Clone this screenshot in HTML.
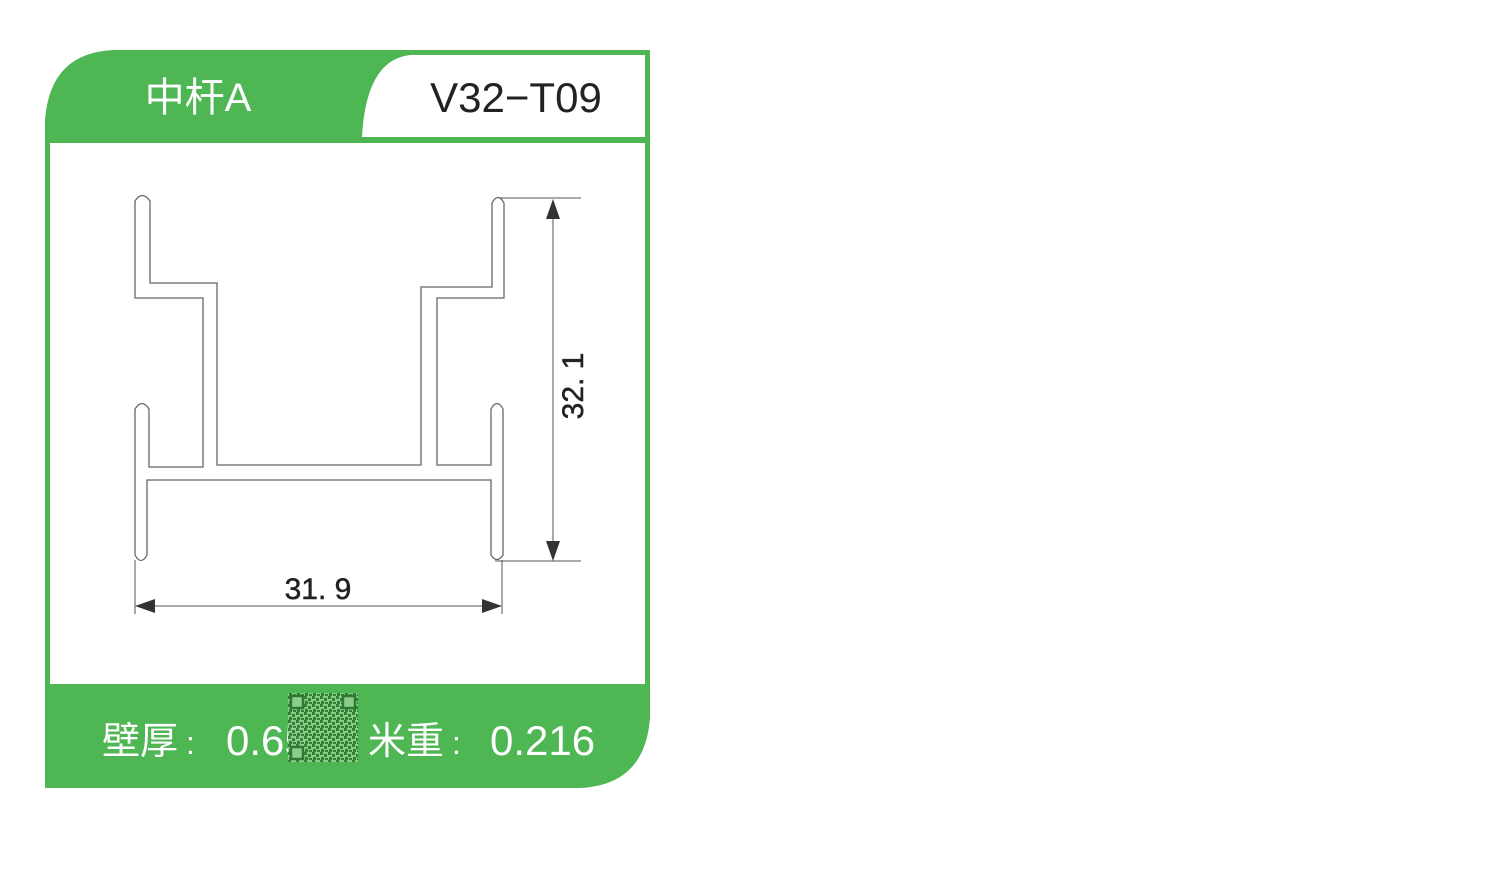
<!DOCTYPE html>
<html><head><meta charset="utf-8"><style>
html,body{margin:0;padding:0;background:#fff;width:1500px;height:870px;overflow:hidden}
svg{display:block}
</style></head><body>
<svg width="1500" height="870" viewBox="0 0 1500 870" xmlns="http://www.w3.org/2000/svg">
<defs>
<pattern id="qr" width="8" height="8" patternUnits="userSpaceOnUse">
<rect width="8" height="8" fill="#8ccf8a"/>
<rect x="0" y="0" width="3" height="3" fill="#2f7a33"/>
<rect x="4" y="2" width="3" height="3" fill="#2f7a33"/>
<rect x="1" y="5" width="3" height="3" fill="#2f7a33"/>
<rect x="5" y="6" width="3" height="2" fill="#2f7a33"/>
</pattern>
</defs>
<path d="M45,120 Q50,52 115,50 L650,50 L650,718 Q645,785 580,788 L45,788 Z" fill="#4fb654"/>
<rect x="50" y="143" width="595" height="541" fill="#fff"/>
<path d="M362,137 Q366,60 410,55 L645,55 L645,137 Z" fill="#fff"/>
<text x="198" y="111" font-family="Liberation Sans, Noto Sans CJK SC, sans-serif" font-size="40" fill="#fff" text-anchor="middle">中杆A</text>
<text x="516" y="112" font-family="Liberation Sans, Noto Sans CJK SC, sans-serif" font-size="42" fill="#222" text-anchor="middle">V32−T09</text>
<path d="M135,298 L135,201 Q142,190 150,201 L150,283 L217,283 L217,465 L421,465 L421,287 L492,287 L492,203 Q498,192 504,203 L504,298 L437,298 L437,465 L491,465 L491,409 Q497,398 503,409 L503,555 Q497,564 491,555 L491,480 L147,480 L147,555 Q141,566 135,555 L135,409 Q142,398 149,409 L149,467 L203,467 L203,298 Z" fill="none" stroke="#666" stroke-width="1.3"/>
<g stroke="#555" stroke-width="1" fill="none">
<line x1="135" y1="560" x2="135" y2="614"/>
<line x1="502" y1="560" x2="502" y2="614"/>
<line x1="140" y1="606" x2="497" y2="606"/>
<line x1="500" y1="198" x2="581" y2="198"/>
<line x1="495" y1="561" x2="581" y2="561"/>
<line x1="553" y1="205" x2="553" y2="555"/>
</g>
<g fill="#333">
<polygon points="135,606 155,599 155,613"/>
<polygon points="502,606 482,599 482,613"/>
<polygon points="553,199 546,219 560,219"/>
<polygon points="553,561 546,541 560,541"/>
</g>
<text x="318" y="599" font-family="Liberation Sans, sans-serif" font-size="30" fill="#222" stroke="#222" stroke-width="0.5" text-anchor="middle">31. 9</text>
<text transform="translate(583,386) rotate(-90)" font-family="Liberation Sans, sans-serif" font-size="30" fill="#222" stroke="#222" stroke-width="0.5" text-anchor="middle">32. 1</text>
<g font-family="Liberation Sans, Noto Sans CJK SC, sans-serif" fill="#fff">
<text x="102" y="754" font-size="38">壁厚</text>
<text x="186" y="754" font-size="32">:</text>
<text x="226" y="755" font-size="42">0.65</text>
<text x="368" y="754" font-size="38">米重</text>
<text x="452" y="754" font-size="32">:</text>
<text x="490" y="755" font-size="42">0.216</text>
</g>
<rect x="288" y="693" width="70" height="69" fill="url(#qr)" opacity="0.92"/>
<g fill="none" stroke="#2f7a33" stroke-width="2.5">
<rect x="291" y="696" width="12" height="12" fill="#8ccf8a"/>
<rect x="343" y="696" width="12" height="12" fill="#8ccf8a"/>
<rect x="291" y="747" width="12" height="12" fill="#8ccf8a"/>
</g>
</svg>
</body></html>
